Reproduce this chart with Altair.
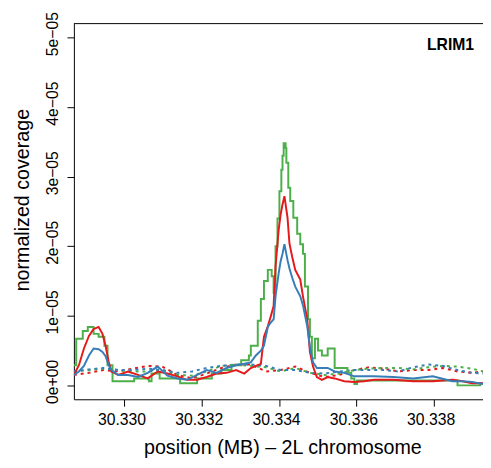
import altair as alt
import pandas as pd

# ---- data (coverage in units of 1e-05) ----
x_rb = [30.32869, 30.32882, 30.32895, 30.32908, 30.32920, 30.32933, 30.32943, 30.32951,
        30.32959, 30.32966, 30.32984, 30.33009, 30.33035, 30.33060, 30.33086, 30.33111,
        30.33137, 30.33162, 30.33188, 30.33213, 30.33238, 30.33264, 30.33289, 30.33310,
        30.33327, 30.33340, 30.33353, 30.33361, 30.33371, 30.33378, 30.33386, 30.33391,
        30.33399, 30.33404, 30.33409, 30.33414, 30.33422, 30.33427, 30.33434, 30.33442,
        30.33455, 30.33462, 30.33473, 30.33480, 30.33488, 30.33498, 30.33511, 30.33526,
        30.33544, 30.33569, 30.33595, 30.33620, 30.33646, 30.33696, 30.33747, 30.33798,
        30.33849, 30.33875, 30.33900, 30.33928]
red_solid = [0.15, 0.29, 0.53, 0.71, 0.81, 0.84, 0.74, 0.57,
             0.34, 0.20, 0.15, 0.20, 0.15, 0.10, 0.20, 0.17,
             0.13, 0.08, 0.08, 0.12, 0.17, 0.18, 0.22, 0.17,
             0.25, 0.28, 0.31, 0.70, 0.85, 0.98, 1.14, 1.71,
             2.23, 2.45, 2.60, 2.72, 2.41, 2.04, 1.85, 1.66,
             1.52, 1.28, 0.95, 0.48, 0.27, 0.12, 0.08, 0.12,
             0.10, 0.06, 0.05, 0.06, 0.08, 0.08, 0.06, 0.06,
             0.08, 0.06, 0.03, 0.03]
blue_solid = [0.15, 0.20, 0.28, 0.43, 0.53, 0.52, 0.48, 0.42,
              0.29, 0.22, 0.15, 0.15, 0.12, 0.18, 0.27, 0.14,
              0.10, 0.08, 0.15, 0.22, 0.18, 0.25, 0.29, 0.31,
              0.33, 0.43, 0.50, 0.57, 0.84, 0.90, 0.95, 1.28,
              1.61, 1.78, 1.89, 2.03, 1.80, 1.68, 1.55, 1.42,
              1.28, 1.15, 0.85, 0.55, 0.33, 0.25, 0.25, 0.25,
              0.20, 0.18, 0.13, 0.13, 0.13, 0.12, 0.10, 0.13,
              0.06, 0.06, 0.05, 0.02]

x_green = [30.32869, 30.32875, 30.32892, 30.32905, 30.32920, 30.32933, 30.32948, 30.32956,
           30.32969, 30.33025, 30.33063, 30.33070, 30.33091, 30.33144, 30.33188, 30.33226,
           30.33251, 30.33277, 30.33302, 30.33322, 30.33327, 30.33345, 30.33353, 30.33361,
           30.33371, 30.33381, 30.33386, 30.33391, 30.33396, 30.33401, 30.33406, 30.33409,
           30.33412, 30.33417, 30.33419, 30.33424, 30.33429, 30.33437, 30.33447, 30.33455,
           30.33462, 30.33467, 30.33475, 30.33480, 30.33485, 30.33493, 30.33501, 30.33511,
           30.33526, 30.33544, 30.33577, 30.33587, 30.33595, 30.33602, 30.33862, 30.33921,
           30.33928]
green_solid = [0.29, 0.67, 0.78, 0.84, 0.74, 0.70, 0.57, 0.29,
               0.06, 0.10, 0.06, 0.17, 0.10, 0.03, 0.10, 0.17,
               0.22, 0.29, 0.36, 0.43, 0.57, 0.93, 1.24, 1.50,
               1.66, 1.57, 1.33, 2.00, 2.40, 2.79, 3.10, 3.30,
               3.48, 3.41, 3.20, 2.84, 2.65, 2.41, 2.18, 2.03,
               1.89, 1.42, 0.95, 0.70, 0.39, 0.67, 0.50, 0.43,
               0.53, 0.25, 0.18, 0.10, 0.02, 0.07, 0.00, 0.03,
               0.03]

x_dot = [30.32869, 30.32908, 30.32946, 30.32984, 30.33022, 30.33060, 30.33098, 30.33137,
         30.33175, 30.33213, 30.33251, 30.33289, 30.33327, 30.33366, 30.33404, 30.33442,
         30.33480, 30.33518, 30.33556, 30.33595, 30.33633, 30.33671, 30.33709, 30.33747,
         30.33786, 30.33824, 30.33862, 30.33900, 30.33928]
red_dot = [0.15, 0.18, 0.22, 0.20, 0.24, 0.28, 0.27, 0.15,
           0.10, 0.17, 0.25, 0.30, 0.30, 0.20, 0.22, 0.27,
           0.18, 0.12, 0.15, 0.22, 0.26, 0.24, 0.20, 0.22,
           0.22, 0.25, 0.20, 0.18, 0.20]
green_dot = [0.20, 0.22, 0.24, 0.22, 0.20, 0.20, 0.22, 0.15,
             0.14, 0.20, 0.28, 0.30, 0.28, 0.26, 0.20, 0.25,
             0.18, 0.15, 0.17, 0.22, 0.24, 0.25, 0.25, 0.23,
             0.26, 0.28, 0.27, 0.24, 0.20]
blue_dot = [0.20, 0.23, 0.25, 0.22, 0.22, 0.24, 0.22, 0.18,
            0.20, 0.25, 0.28, 0.30, 0.30, 0.28, 0.22, 0.22,
            0.18, 0.17, 0.20, 0.22, 0.22, 0.22, 0.20, 0.26,
            0.30, 0.28, 0.22, 0.18, 0.17]

x_ticks = [30.330, 30.332, 30.334, 30.336, 30.338]
y_ticks = [0, 1, 2, 3, 4, 5]
x_domain = [30.32869, 30.33928]
y_domain = [-0.2, 5.2]
gene_label = ["LRIM1"]
gene_x = [30.33905]
gene_y = [4.816]

RED, BLUE, GREEN = "#E41A1C", "#377EB8", "#4DAF4A"
FONT = "Liberation Sans"
W, H = 416, 382

xs = alt.Scale(domain=x_domain, nice=False, zero=False)
ys = alt.Scale(domain=y_domain, nice=False, zero=False)

x_axis = alt.Axis(
    values=x_ticks, format=".3f", title="position (MB) – 2L chromosome",
    grid=False, labelFont=FONT, titleFont=FONT, labelFontSize=16, titleFontSize=20,
    titleFontWeight="normal", labelColor="black", titleColor="black",
    domainColor="black", tickColor="black", tickSize=7, labelPadding=19,
    labelBaseline="alphabetic", labelOffset=-3, labelFlush=False, labelOverlap=False,
    titleX=212, titleY=55, titleBaseline="alphabetic", titleAlign="center",
)
y_axis = alt.Axis(
    values=y_ticks, title="normalized coverage",
    labelExpr="datum.value == 0 ? '0e+00' : datum.value + 'e\u221205'",
    grid=False, labelFont=FONT, titleFont=FONT, labelFontSize=16, titleFontSize=20,
    titleFontWeight="normal", labelColor="black", titleColor="black",
    domainColor="black", tickColor="black", tickSize=7, labelPadding=10,
    labelAngle=270, labelAlign="center", labelBaseline="alphabetic", labelOffset=-4,
    labelFlush=False, labelOverlap=False,
    titleAngle=270, titleX=-46, titleY=179, titleBaseline="alphabetic", titleAlign="center",
)


def line(xv, yv, color, dash=None, interp="linear"):
    df = pd.DataFrame({"x": xv, "y": yv})
    kw = dict(color=color, strokeWidth=2, interpolate=interp, clip=True)
    if dash:
        kw["strokeDash"] = dash
        kw["strokeCap"] = "butt"
    return alt.Chart(df).mark_line(**kw).encode(
        x=alt.X("x:Q", scale=xs, axis=x_axis),
        y=alt.Y("y:Q", scale=ys, axis=y_axis),
    )


dots = [3, 4]
layers = [
    line(x_dot, red_dot, RED, dots),
    line(x_dot, green_dot, GREEN, dots),
    line(x_dot, blue_dot, BLUE, dots),
    line(x_green, green_solid, GREEN, interp="step-after"),
    line(x_rb, red_solid, RED),
    line(x_rb, blue_solid, BLUE),
]

top_border = alt.Chart(pd.DataFrame({"a": [0]})).mark_rule(
    color="black", strokeWidth=1
).encode(x=alt.value(0), x2=alt.value(W), y=alt.value(0))

label = alt.Chart(pd.DataFrame({"x": gene_x, "y": gene_y, "t": gene_label})).mark_text(
    font=FONT, fontSize=16, fontWeight="bold", align="right", baseline="alphabetic", color="black"
).encode(
    x=alt.X("x:Q", scale=xs, axis=x_axis),
    y=alt.Y("y:Q", scale=ys, axis=y_axis),
    text="t:N",
)

chart = alt.layer(*layers, label, top_border).properties(
    width=W, height=H,
    padding={"left": 67, "top": 12, "right": 0, "bottom": 66},
    autosize=alt.AutoSizeParams(type="none"),
    background="white",
).configure_view(strokeWidth=0)

chart.save("out.html", embed_options={"renderer": "svg", "actions": False})
